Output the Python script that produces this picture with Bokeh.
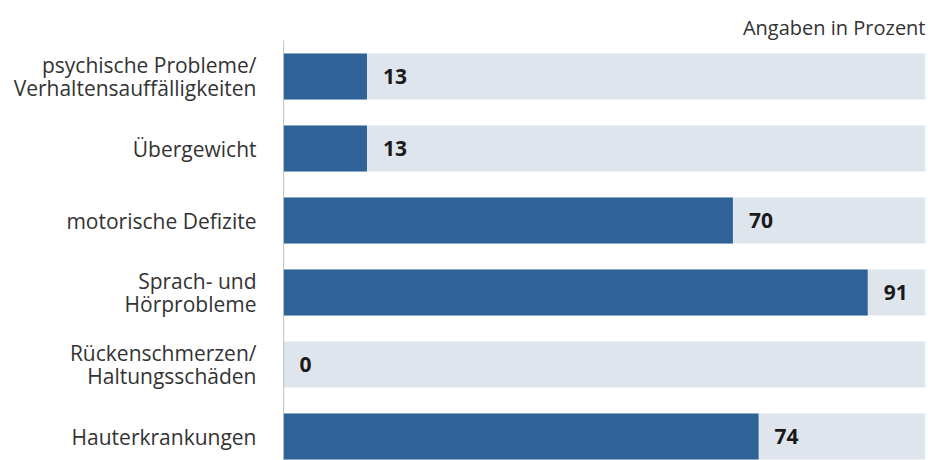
from bokeh.plotting import figure
from bokeh.models import Range1d, FixedTicker, ColumnDataSource
from bokeh.core.properties import value
from bokeh.embed import file_html
from bokeh.resources import INLINE

categories = [
    "psychische Probleme/\nVerhaltensauffälligkeiten",
    "Übergewicht",
    "motorische Defizite",
    "Sprach- und\nHörprobleme",
    "Rückenschmerzen/\nHaltungsschäden",
    "Hauterkrankungen",
]
values = [13, 13, 70, 91, 0, 74]
full = [100] * len(values)
unit_note = "Angaben in Prozent"

FONT = "Open Sans"
idx = list(range(len(categories)))
src = ColumnDataSource(dict(y=idx, v=values, full=full, lab=[str(v) for v in values]))

p = figure(width=928, height=460, output_backend="svg", toolbar_location=None,
           x_range=Range1d(0, 100), y_range=Range1d(5.333, -1.056),
           min_border_left=283, min_border_right=3, min_border_top=0, min_border_bottom=0,
           outline_line_color=None, background_fill_color="white")
p.xaxis.visible = False
p.xgrid.visible = False
p.ygrid.visible = False

p.hbar(y="y", left=0, right="full", height=0.64, source=src, color="#dfe5ec", line_color=None)
p.hbar(y="y", left=0, right="v", height=0.64, source=src, color="#2f6296", line_color=None)
p.segment(x0=[0], y0=[-0.5], x1=[0], y1=[5.333], line_color="#9a9a9a", line_width=1.2)
p.text(x="v", y="y", text="lab", source=src, x_offset=16, text_baseline="middle",
       text_align="left", text_font=value(FONT), text_font_style="bold",
       text_font_size="21px", text_color="#1a1a1a")
p.text(x=[100], y=[-0.68], text=[unit_note], text_align="right", text_baseline="middle",
       text_font=value(FONT), text_font_size="20px", text_color="#333333")

ax = p.yaxis[0]
ax.ticker = FixedTicker(ticks=idx)
ax.major_label_overrides = {i: c for i, c in enumerate(categories)}
ax.axis_line_color = None
ax.major_tick_line_color = None
ax.minor_tick_line_color = None
ax.major_label_standoff = 21
ax.major_label_text_font = FONT
ax.major_label_text_font_size = "21px"
ax.major_label_text_line_height = 0.8
ax.major_label_text_color = "#333333"

open("out.html", "w").write(file_html(p, INLINE))
